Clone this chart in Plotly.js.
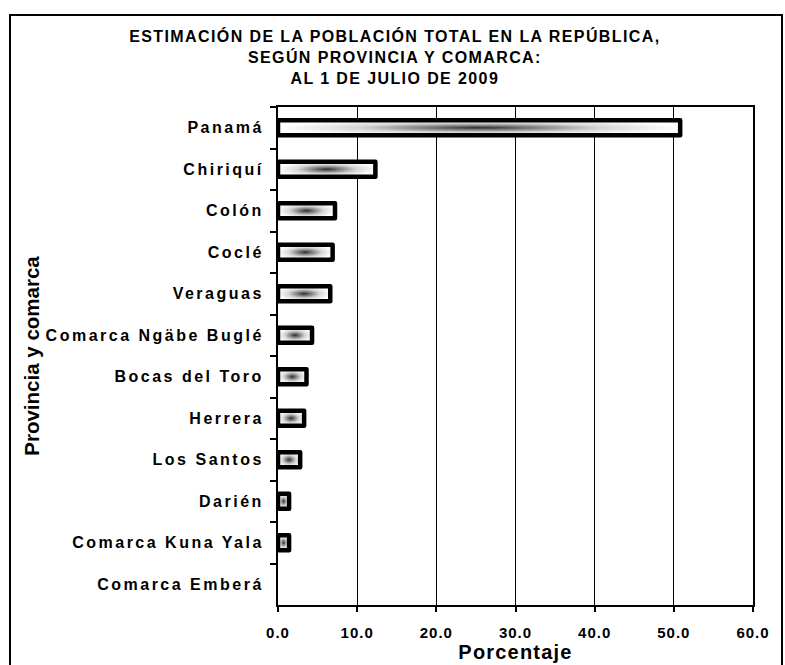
<!DOCTYPE html>
<html>
<head>
<meta charset="utf-8">
<script src="https://cdn.plot.ly/plotly-3.0.1.min.js"></script>
<style>
  html, body { margin: 0; padding: 0; background: #fff; overflow: hidden; }
  #chart { position: absolute; left: 0; top: 0; width: 785px; height: 665px; }
  #frame { position: absolute; left: 9px; top: 14px; width: 770px; height: 700px;
           border: 2px solid #000; pointer-events: none; }
  #chart text.gtitle { letter-spacing: 1.4px; }
  #chart g.ytick text { letter-spacing: 2.5px; }
  #chart g.xtick text { letter-spacing: 1px; }
  #chart text.xtitle { letter-spacing: 1.2px; }
  #chart .barlayer path { stroke-linejoin: round; }
</style>
</head>
<body>
<div id="chart"></div>
<div id="frame"></div>
<script>
// ---- data ----
const categories = [
  "Panamá", "Chiriquí", "Colón", "Coclé", "Veraguas",
  "Comarca Ngäbe Buglé", "Bocas del Toro", "Herrera", "Los Santos",
  "Darién", "Comarca Kuna Yala", "Comarca Emberá"
];
const porcentaje = [50.8, 12.3, 7.2, 6.9, 6.6, 4.3, 3.6, 3.3, 2.8, 1.4, 1.4, 0];
const xTickValues = [0, 10, 20, 30, 40, 50, 60];
const titleLines = [
  "ESTIMACIÓN DE LA POBLACIÓN TOTAL EN LA REPÚBLICA,",
  "SEGÚN PROVINCIA Y COMARCA:",
  "AL 1 DE JULIO DE 2009"
];
const xTitle = "Porcentaje";
const yTitle = "Provincia y comarca";

// ---- chart ----
const FONT = "Liberation Sans, Arial, sans-serif";
const lineWidths = porcentaje.map(v => v > 0 ? 4.5 : 0);

const trace = {
  type: "bar",
  orientation: "h",
  x: porcentaje,
  y: categories,
  marker: { color: "#bdbdbd", line: { color: "#000", width: lineWidths } },
  hoverinfo: "x+y"
};

const layout = {
  width: 785, height: 665,
  paper_bgcolor: "rgba(0,0,0,0)", plot_bgcolor: "#fff",
  margin: { l: 278, r: 32, t: 107, b: 60, pad: 0 },
  showlegend: false,
  bargap: 0.64,
  title: {
    text: titleLines.join("<br>"),
    font: { family: FONT, size: 16, color: "#000", weight: "bold" },
    x: 0.503, xanchor: "center",
    y: 1 - 42 / 665, yanchor: "top", yref: "container"
  },
  xaxis: {
    range: [0, 60],
    tickvals: xTickValues,
    tickformat: ".1f",
    showgrid: true, gridcolor: "#000", gridwidth: 1,
    showline: true, linecolor: "#000", linewidth: 2, mirror: true,
    ticks: "outside", ticklen: 5, tickwidth: 2, tickcolor: "#000",
    ticklabelstandoff: 8,
    zeroline: false,
    tickfont: { family: FONT, size: 15, color: "#000", weight: "bold" },
    title: { text: xTitle, standoff: 0,
             font: { family: FONT, size: 20, color: "#000", weight: "bold" } }
  },
  yaxis: {
    type: "category",
    autorange: "reversed",
    showgrid: false,
    showline: true, linecolor: "#000", linewidth: 2, mirror: true,
    ticks: "outside", ticklen: 6, tickwidth: 2, tickcolor: "#000",
    tickson: "boundaries",
    ticklabelstandoff: 9,
    tickfont: { family: FONT, size: 16, color: "#000", weight: "bold" },
    title: { text: yTitle, standoff: 48,
             font: { family: FONT, size: 20.5, color: "#000", weight: "bold" } }
  }
};

function applyGradient(gd) {
  const svg = gd.querySelector("svg.main-svg");
  if (!svg) return;
  const ns = "http://www.w3.org/2000/svg";
  let defs = svg.querySelector("defs");
  if (!defs) { defs = document.createElementNS(ns, "defs"); svg.insertBefore(defs, svg.firstChild); }
  if (!svg.querySelector("#barGrad")) {
    const g = document.createElementNS(ns, "radialGradient");
    g.setAttribute("id", "barGrad");
    g.setAttribute("cx", "0.5"); g.setAttribute("cy", "0.5"); g.setAttribute("r", "0.5");
    [[0, "#2e2e2e"], [0.25, "#7a7a7a"], [0.6, "#d6d6d6"], [1, "#ffffff"]].forEach(s => {
      const st = document.createElementNS(ns, "stop");
      st.setAttribute("offset", s[0]); st.setAttribute("stop-color", s[1]);
      g.appendChild(st);
    });
    defs.appendChild(g);
  }
  gd.querySelectorAll(".barlayer .point path").forEach(p => {
    p.style.fill = "url(#barGrad)";
  });
}

const gd = document.getElementById("chart");
Plotly.newPlot(gd, [trace], layout, { displayModeBar: false, staticPlot: true }).then(() => {
  applyGradient(gd);
  gd.on && gd.on("plotly_afterplot", () => applyGradient(gd));
});
</script>
</body>
</html>
